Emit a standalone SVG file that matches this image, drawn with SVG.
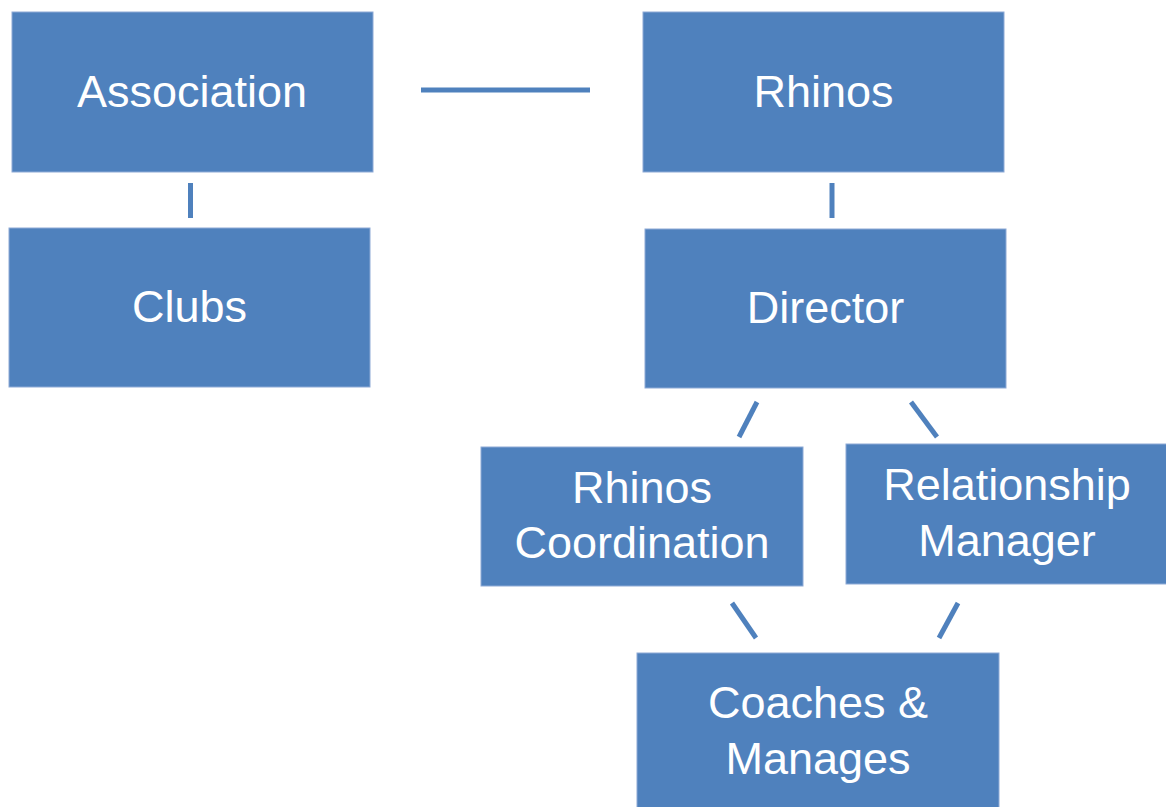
<svg xmlns="http://www.w3.org/2000/svg" width="1166" height="807" viewBox="0 0 1166 807">
<style>
.box{fill:#4F81BD;stroke:#8EAAD6;stroke-width:1}
.t{fill:#FFFFFF;font-family:"Liberation Sans",Arial,sans-serif;font-size:45px;text-anchor:middle}
.c{stroke:#4F81BD;stroke-width:5;fill:none}
</style>
<rect width="1166" height="807" fill="#FFFFFF"/>
<g id="connectors">
<line class="c" x1="421" y1="90" x2="590" y2="90"/>
<line class="c" x1="190.5" y1="183" x2="190.5" y2="218"/>
<line class="c" x1="832" y1="183" x2="832" y2="218"/>
<line class="c" x1="757" y1="402" x2="739" y2="437"/>
<line class="c" x1="911" y1="402" x2="937" y2="437"/>
<line class="c" x1="732" y1="603" x2="756" y2="638"/>
<line class="c" x1="958" y1="603" x2="939" y2="638"/>
</g>
<g id="association">
<rect class="box" x="12" y="12" width="361" height="160"/>
<text class="t" x="192" y="107">Association</text>
</g>
<g id="clubs">
<rect class="box" x="9" y="228" width="361" height="159"/>
<text class="t" x="189.5" y="322">Clubs</text>
</g>
<g id="rhinos">
<rect class="box" x="643" y="12" width="361" height="160"/>
<text class="t" x="823.5" y="107">Rhinos</text>
</g>
<g id="director">
<rect class="box" x="645" y="229" width="361" height="159"/>
<text class="t" x="825.5" y="323">Director</text>
</g>
<g id="rhinos-coordination">
<rect class="box" x="481" y="447" width="322" height="139"/>
<text class="t" x="642" y="503">Rhinos</text>
<text class="t" x="642" y="558">Coordination</text>
</g>
<g id="relationship-manager">
<rect class="box" x="846" y="444" width="325" height="140"/>
<text class="t" x="1007" y="500">Relationship</text>
<text class="t" x="1007" y="556">Manager</text>
</g>
<g id="coaches-manages">
<rect class="box" x="637" y="653" width="362" height="160"/>
<text class="t" x="818" y="718">Coaches &amp;</text>
<text class="t" x="818" y="774">Manages</text>
</g>
</svg>
